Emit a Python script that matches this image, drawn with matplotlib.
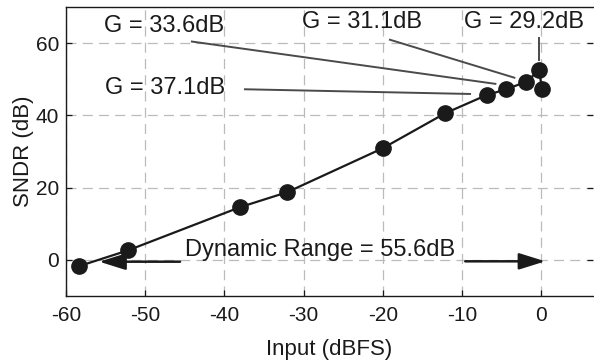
import numpy as np
import matplotlib.pyplot as plt

plt.rcParams['font.family'] = ['Liberation Sans', 'DejaVu Sans']
plt.rcParams['axes.unicode_minus'] = False

# measured SNDR vs input level
input_dbfs = [-58.3, -52.2, -38.0, -32.1, -20.0, -12.1, -6.9, -4.4, -1.9, -0.3, 0.1]
sndr_db = [-1.7, 2.6, 14.6, 18.7, 30.9, 40.6, 45.6, 47.2, 49.3, 52.4, 47.3]

# gain labels: text, text position, line start, line end
gain_labels = ['G = 33.6dB', 'G = 37.1dB', 'G = 31.1dB', 'G = 29.2dB']
gain_text_xy = [(-55.2, 64.6), (-55.1, 47.6), (-30.2, 65.7), (-9.8, 65.7)]
gain_line_from = [(-44.1, 60.4), (-37.4, 47.2), (-19.1, 60.9), (-0.3, 61.3)]
gain_line_to = [(-5.8, 48.7), (-9.0, 45.9), (-3.4, 50.4), (-0.3, 55.3)]

dr_text = 'Dynamic Range = 55.6dB'
dr_text_xy = (-45.0, 2.8)
dr_arrow_left = ((-45.6, -0.5), (-55.8, -0.5))
dr_arrow_right = ((-9.6, -0.4), (0.5, -0.4))

fig = plt.figure(figsize=(5.94, 3.61), dpi=100)
ax = fig.add_axes([0.111, 0.180, 0.887, 0.801])

ax.plot(input_dbfs, sndr_db, color='#1a1a1a', linewidth=1.6,
        marker='o', markersize=11, markerfacecolor='#1a1a1a',
        markeredgecolor='#1a1a1a')

for lab, txy, p0, p1 in zip(gain_labels, gain_text_xy, gain_line_from, gain_line_to):
    ax.text(txy[0], txy[1], lab, fontsize=17, ha='left', va='center', color='#1a1a1a')
    ax.plot([p0[0], p1[0]], [p0[1], p1[1]], color='#4a4a4a', linewidth=1.4)

ax.text(dr_text_xy[0], dr_text_xy[1], dr_text, fontsize=17, ha='left',
        va='center', color='#1a1a1a')
for start, end in (dr_arrow_left, dr_arrow_right):
    ax.annotate('', xy=end, xytext=start,
                arrowprops=dict(arrowstyle='-|>,head_length=1.6,head_width=0.5',
                                color='#1a1a1a', linewidth=1.8,
                                shrinkA=0, shrinkB=0))

ax.set_xlim(-60, 6.5)
ax.set_ylim(-10, 70)
ax.set_xticks(np.arange(-60, 1, 10))
ax.set_yticks(np.arange(0, 61, 20))
ax.grid(True, linestyle=(0, (8, 5)), color='#bbbbbb', linewidth=0.9)
ax.tick_params(direction='in', top=False, right=True, labelsize=15,
               length=4, width=0.9, colors='#1a1a1a')
ax.tick_params(axis='x', pad=7)
ax.tick_params(axis='y', pad=5)
for side in ['left', 'bottom', 'top']:
    ax.spines[side].set_linewidth(1.0)
    ax.spines[side].set_color('#1a1a1a')
ax.spines['right'].set_visible(False)

ax.set_xlabel('Input (dBFS)', fontsize=16, color='#1a1a1a', labelpad=10)
ax.set_ylabel('SNDR (dB)', fontsize=16, color='#1a1a1a', labelpad=1)

fig.savefig('out.png', dpi=100)
